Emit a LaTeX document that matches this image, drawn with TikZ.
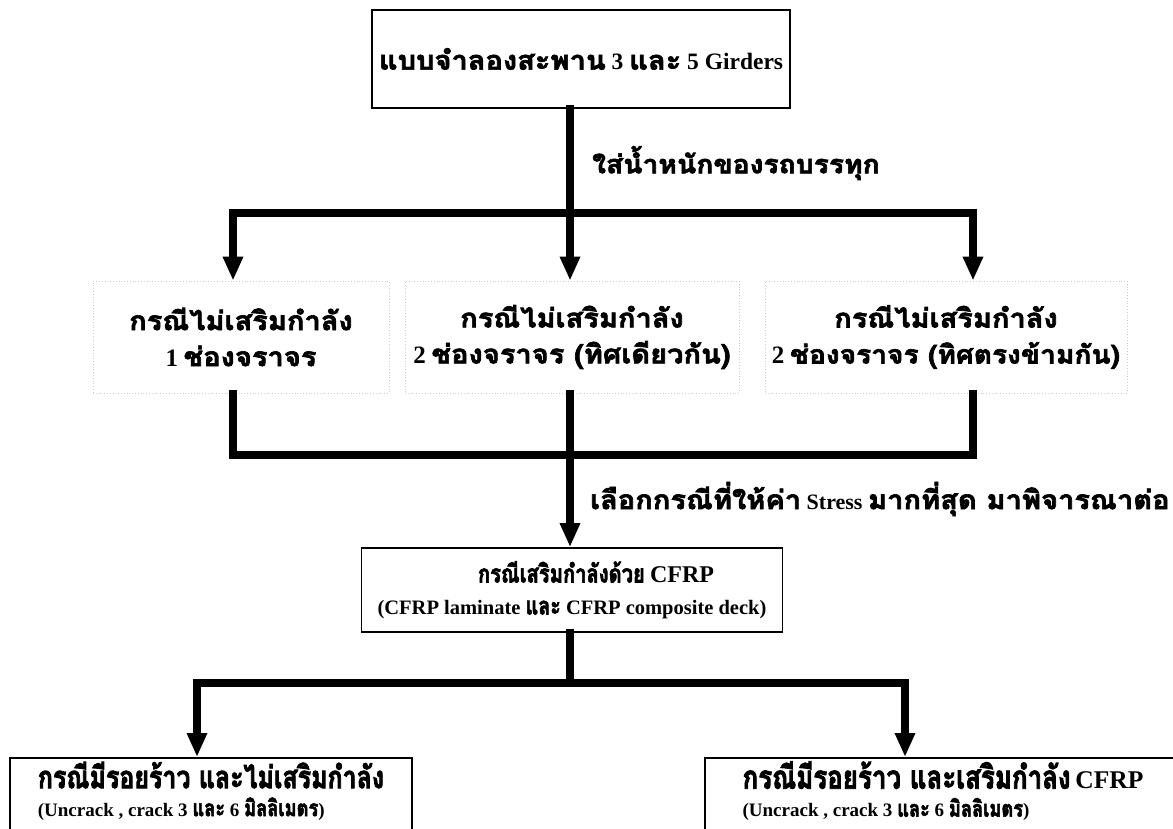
\documentclass[tikz,border=0pt]{standalone}
\usepackage{fontspec}
\setmainfont{Liberation Serif}
\newfontfamily\T[Script=Thai,FakeStretch=1.1,Scale=1.2,FakeBold=2.5]{Loma}
\newfontfamily\Tn[Script=Thai,FakeStretch=0.8,Scale=1.2,FakeBold=2.5]{Loma}
\newcommand\Fs[1]{\fontsize{#1}{#1}\selectfont}
\usetikzlibrary{arrows.meta}
\tikzset{
  box/.style={draw=black, line width=1.8pt, rectangle, inner sep=0pt, align=center, font=\bfseries},
  dbox/.style={draw=gray!40, dotted, line width=0.8pt, rectangle, inner sep=0pt, align=center, font=\bfseries},
  txt/.style={inner sep=0pt, font=\bfseries},
  ln/.style={line width=7.5pt, line cap=rect},
  arr/.style={line width=7.5pt, -{Triangle[length=24pt,width=19pt]}},
  lbl/.style={inner sep=0pt, anchor=west, font=\bfseries},
}
\begin{document}
\lineskiplimit=-100pt
\begin{tikzpicture}[x=1pt,y=-1pt]
\useasboundingbox (0,0) rectangle (1173,828);
\clip (0,0) rectangle (1173,828);
% coordinates of junctions
\coordinate (jT) at (570,213);
\coordinate (jL1) at (233,213);
\coordinate (jR1) at (973,213);
\coordinate (jL2) at (233,455);
\coordinate (jM2) at (570,455);
\coordinate (jR2) at (973,455);
\coordinate (jM3) at (570,683);
\coordinate (jL3) at (197,683);
\coordinate (jR3) at (905,683);
% nodes
\node[box, minimum width=418pt, minimum height=98pt, font=\bfseries\fontsize{23.5}{27}\selectfont] (top) at (581,59)
  {{\Fs{22}\T แบบจำลองสะพาน} 3 {\Fs{22}\T และ} 5 Girders};
\node[lbl, font=\bfseries\fontsize{21.4}{26}\selectfont] (l1) at (592,163) {\T ใส่น้ำหนักของรถบรรทุก};
\node[dbox, minimum width=296pt, minimum height=112pt, font=\bfseries\fontsize{22}{36}\selectfont] (b1) at (241,337)
  {{\T กรณีไม่เสริมกำลัง}\\{\Fs{25}1} {\T ช่องจราจร}};
\node[dbox, minimum width=334pt, minimum height=112pt, font=\bfseries\fontsize{22}{36}\selectfont] (b2) at (572,337)
  {{\T กรณีไม่เสริมกำลัง}\\{\Fs{25}2} {\T ช่องจราจร (ทิศเดียวกัน)}};
\node[dbox, minimum width=362pt, minimum height=112pt, font=\bfseries\fontsize{22}{36}\selectfont] (b3) at (946,337)
  {{\T กรณีไม่เสริมกำลัง}\\{\Fs{25}2} {\Fs{21.3}\T ช่องจราจร (ทิศตรงข้ามกัน)}};
\node[lbl, font=\bfseries\fontsize{22}{26}\selectfont] (l2) at (590,499)
  {{\T เลือกกรณีที่ให้ค่า} Stress {\T มากที่สุด มาพิจารณาต่อ}};
\node[box, minimum width=421pt, minimum height=84pt, font=\bfseries\fontsize{20.5}{32}\selectfont] (cf) at (572,590)
  {\hspace*{48pt}{\Fs{21}\Tn กรณีเสริมกำลังด้วย} {\Fs{24}CFRP}\\(CFRP laminate {\Tn และ} CFRP composite deck)};
\node[box, minimum width=402pt, minimum height=80pt, anchor=north] (d1) at (211,757) {};
\node[txt, align=left, font=\bfseries\fontsize{19}{28}\selectfont] (d1t) at (211,791)
  {{\Fs{26}\Tn กรณีมีรอยร้าว และไม่เสริมกำลัง}\\(Uncrack , crack 3 {\Tn และ} 6 {\Tn มิลลิเมตร})};
\node[box, minimum width=476pt, minimum height=80pt, anchor=north] (d2) at (943,757) {};
\node[txt, align=left, font=\bfseries\fontsize{19}{28}\selectfont] (d2t) at (943,791)
  {{\Fs{27}\Tn กรณีมีรอยร้าว และเสริมกำลัง} {\Fs{25.5}CFRP}\\(Uncrack , crack 3 {\Tn และ} 6 {\Tn มิลลิเมตร})};
% connectors
\draw[ln] (top.south -| jT) -- (jT);
\draw[ln] (jL1) -- (jR1);
\draw[arr] (jL1) -- (b1.north -| jL1);
\draw[arr] (jT) -- (b2.north -| jT);
\draw[arr] (jR1) -- (b3.north -| jR1);
\draw[ln] (b1.south -| jL2) -- (jL2);
\draw[ln] (b2.south -| jM2) -- (jM2);
\draw[ln] (b3.south -| jR2) -- (jR2);
\draw[ln] (jL2) -- (jR2);
\draw[arr] (jM2) -- (cf.north -| jM2);
\draw[ln] (cf.south -| jM3) -- (jM3);
\draw[ln] (jL3) -- (jR3);
\draw[arr] (jL3) -- (d1.north -| jL3);
\draw[arr] (jR3) -- (d2.north -| jR3);
\end{tikzpicture}
\end{document}
